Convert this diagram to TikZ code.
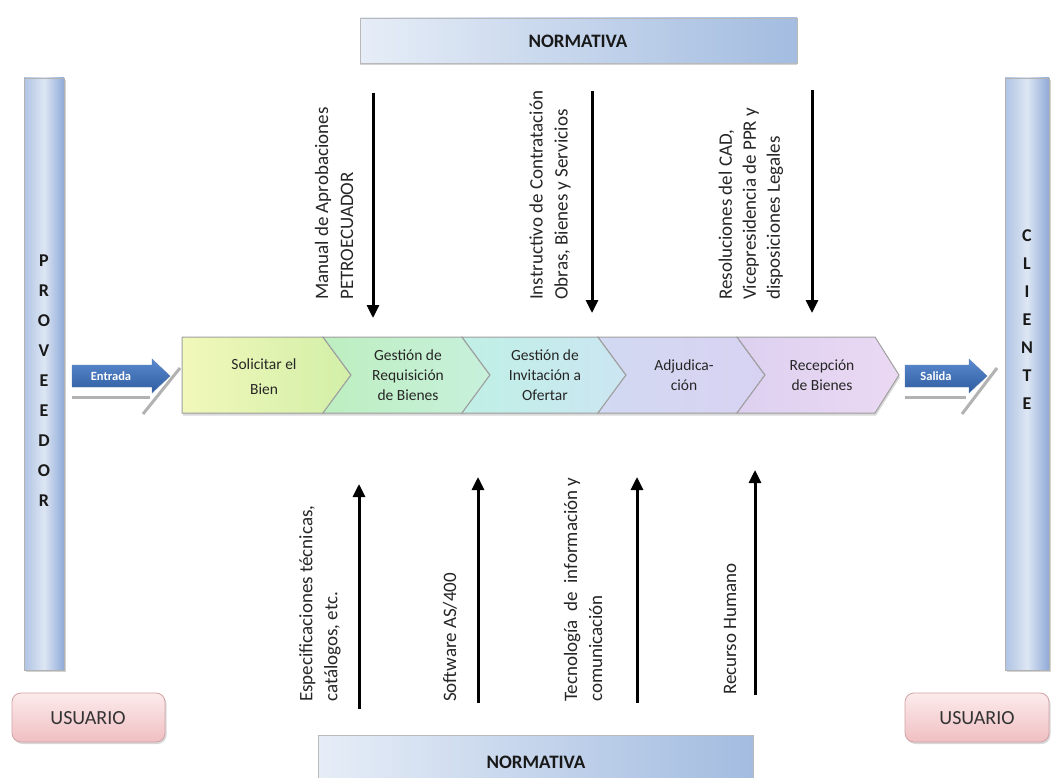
\documentclass[tikz,border=0pt]{standalone}
\usepackage{fontspec}
\setmainfont{Carlito}
\usetikzlibrary{arrows.meta,shadows}
\definecolor{barL}{HTML}{AFC3E3}
\definecolor{barM}{HTML}{DDE6F3}
\definecolor{barR}{HTML}{8FAAD8}
\definecolor{normL}{HTML}{E6EDF7}
\definecolor{normR}{HTML}{A3BCE0}
\definecolor{usrT}{HTML}{FCEBEC}
\definecolor{usrB}{HTML}{F0BFC2}
\definecolor{usrD}{HTML}{D2A3A6}
\definecolor{arrT}{HTML}{5A8AD0}
\definecolor{arrB}{HTML}{2F5C9F}
\definecolor{cAl}{HTML}{F1F8BA}
\definecolor{cAr}{HTML}{D2EFA8}
\definecolor{cBl}{HTML}{BDEFC0}
\definecolor{cBr}{HTML}{C8F0DC}
\definecolor{cCl}{HTML}{C0F0E6}
\definecolor{cCr}{HTML}{CBE6F2}
\definecolor{cDl}{HTML}{D2D9F2}
\definecolor{cDr}{HTML}{D8D2F2}
\definecolor{cEl}{HTML}{DDD0F0}
\definecolor{cEr}{HTML}{EBD9F3}
\begin{document}
\begin{tikzpicture}[x=1pt,y=-1pt,
  vtext/.style={rotate=90, anchor=west, align=left, inner sep=0pt, text=black!85,
                font=\fontsize{19}{25}\selectfont},
  flow/.style={line width=3pt, -{Triangle[length=13pt,width=12pt]}},
  barbox/.style={draw=gray!60, line width=0.6pt, left color=barL, right color=barR, middle color=barM,
                 drop shadow={shadow xshift=2pt, shadow yshift=-2pt, opacity=0.35}},
  normbox/.style={draw=gray!55, line width=0.6pt, left color=normL, right color=normR,
                 drop shadow={shadow xshift=0pt, shadow yshift=-2.5pt, opacity=0.35}},
  usrbox/.style={draw=usrD, line width=0.8pt, rounded corners=9pt, top color=usrT, bottom color=usrB,
                 drop shadow={shadow xshift=1.5pt, shadow yshift=-2pt, opacity=0.3}},
  chev/.style={draw=gray!75, line width=1pt, drop shadow={shadow xshift=1pt, shadow yshift=-2.5pt, opacity=0.3}},
  ctext/.style={align=center, inner sep=0pt, text=black!85, font=\fontsize{15.5}{20}\selectfont},
  bigtxt/.style={inner sep=0pt, text=black!90, font=\bfseries\fontsize{19}{22}\selectfont},
  usrtxt/.style={inner sep=0pt, text=black!80, font=\fontsize{20}{22}\selectfont},
  lettertxt/.style={align=center, inner sep=0pt, text=black!90, font=\bfseries\fontsize{18}{30}\selectfont},
  iotxt/.style={inner sep=0pt, text=white, font=\bfseries\fontsize{12.5}{15}\selectfont},
  ioarrow/.style={top color=arrT, bottom color=arrB, draw=arrB!80, line width=0.4pt},
  shadowline/.style={draw=gray!60, line width=3pt}
]
\useasboundingbox (0,0) rectangle (1052,778);
\fill[white] (0,0) rectangle (1052,778);

% Normativa boxes
\path[normbox] (360,18) rectangle (797,63);
\node[bigtxt] (normtop) at (578,41) {NORMATIVA};
\path[normbox] (318,735) rectangle (753,790);
\node[bigtxt] (normbot) at (536,762) {NORMATIVA};

% side bars
\path[barbox] (24,78) rectangle (64,670);
\node[lettertxt] (prov) at (44,381) {P\\R\\O\\V\\E\\E\\D\\O\\R};
\path[barbox] (1005,78) rectangle (1049,670);
\node[lettertxt, font=\bfseries\fontsize{18}{28}\selectfont] (cli) at (1027,320) {C\\L\\I\\E\\N\\T\\E};

% usuario boxes
\path[usrbox] (12,693) rectangle (165,742);
\node[usrtxt] (usr1) at (88,718) {USUARIO};
\path[usrbox] (905,693) rectangle (1049,742);
\node[usrtxt] (usr2) at (977,718) {USUARIO};

% process chain
\path[chev, left color=cAl, right color=cAr]
  (182,337) -- (323,337) -- (351,375) -- (323,413) -- (182,413) -- cycle;
\path[chev, left color=cBl, right color=cBr]
  (323,337) -- (462,337) -- (490,375) -- (462,413) -- (323,413) -- (351,375) -- cycle;
\path[chev, left color=cCl, right color=cCr]
  (462,337) -- (598,337) -- (626,375) -- (598,413) -- (462,413) -- (490,375) -- cycle;
\path[chev, left color=cDl, right color=cDr]
  (598,337) -- (737,337) -- (765,375) -- (737,413) -- (598,413) -- (626,375) -- cycle;
\path[chev, left color=cEl, right color=cEr]
  (737,337) -- (875,337) -- (899,375) -- (875,413) -- (737,413) -- (765,375) -- cycle;
\node[ctext] (s1) at (264,377) {Solicitar el\\[5pt]Bien};
\node[ctext] (s2) at (408,375) {Gestión de\\Requisición\\de Bienes};
\node[ctext] (s3) at (545,375) {Gestión de\\Invitación a\\Ofertar};
\node[ctext] (s4) at (684,375) {Adjudica-\\ción};
\node[ctext] (s5) at (822,375) {Recepción\\de Bienes};

% entrada / salida arrows
\draw[shadowline] (72,397) -- (150,397);
\draw[shadowline] (143,414) -- (180,368);
\path[ioarrow] (72,365) -- (152,365) -- (152,359) -- (170,376) -- (152,393) -- (152,387) -- (72,387) -- cycle;
\node[iotxt] (ent) at (111,376) {Entrada};
\draw[shadowline] (905,397) -- (966,397);
\draw[shadowline] (962,414) -- (997,368);
\path[ioarrow] (905,365) -- (969,365) -- (969,359) -- (987,376) -- (969,393) -- (969,387) -- (905,387) -- cycle;
\node[iotxt] (sal) at (936,376) {Salida};

% top texts and arrows
\node[vtext] (tx1) at (334,300) {Manual de Aprobaciones\\PETROECUADOR};
\node[vtext] (tx2) at (550,300) {Instructivo de Contratación\\Obras, Bienes y Servicios};
\node[vtext, font=\fontsize{19}{24}\selectfont] (tx3) at (751,300) {Resoluciones del CAD,\\Vicepresidencia de PPR y\\disposiciones Legales};
\coordinate (t1s) at (373,93);  \coordinate (t1e) at (373,318);
\coordinate (t2s) at (592,91);  \coordinate (t2e) at (592,313);
\coordinate (t3s) at (812,90);  \coordinate (t3e) at (812,313);
\draw[flow] (t1s) -- (t1e);
\draw[flow] (t2s) -- (t2e);
\draw[flow] (t3s) -- (t3e);

% bottom texts and arrows
\node[vtext] (bx1) at (320,702) {Especificaciones técnicas,\\catálogos, etc.};
\node[vtext] (bx2) at (450,702) {Software AS/400};
\node[vtext] (bx3) at (583,702) {Tecnología \ de \ información y\\comunicación};
\node[vtext] (bx4) at (730,695) {Recurso Humano};
\coordinate (b1s) at (359,709); \coordinate (b1e) at (359,484);
\coordinate (b2s) at (478,703); \coordinate (b2e) at (478,477);
\coordinate (b3s) at (637,703); \coordinate (b3e) at (637,477);
\coordinate (b4s) at (755,695); \coordinate (b4e) at (755,470);
\draw[flow] (b1s) -- (b1e);
\draw[flow] (b2s) -- (b2e);
\draw[flow] (b3s) -- (b3e);
\draw[flow] (b4s) -- (b4e);
\end{tikzpicture}
\end{document}
